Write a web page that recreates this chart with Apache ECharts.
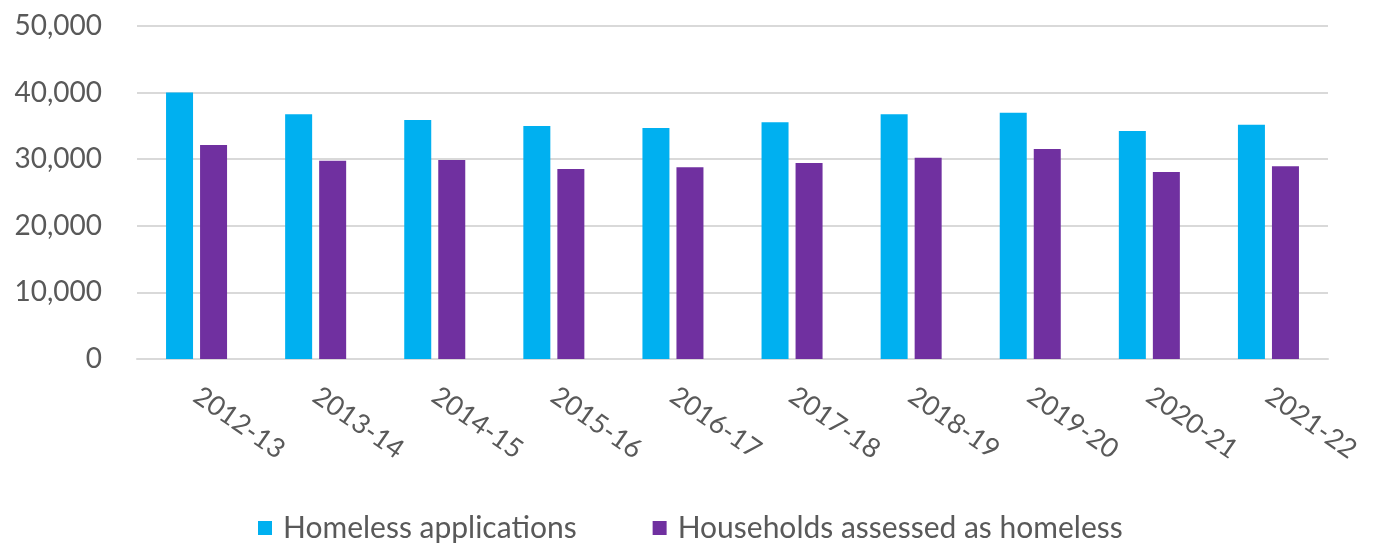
<!DOCTYPE html>
<html><head><meta charset="utf-8">
<script src="https://cdn.jsdelivr.net/npm/echarts@6/dist/echarts.min.js"></script>
<style>html,body{margin:0;padding:0;background:#fff}#c{width:1375px;height:544px}</style>
</head><body><div id="c"></div>
<script>
const categories = ['2012-13','2013-14','2014-15','2015-16','2016-17','2017-18','2018-19','2019-20','2020-21','2021-22'];
const applications = [40000, 36740, 35890, 34990, 34680, 35540, 36740, 36980, 34230, 35180];
const assessed = [32130, 29770, 29880, 28530, 28780, 29430, 30230, 31530, 28080, 28930];
const seriesNames = ['Homeless applications', 'Households assessed as homeless'];

const chart = echarts.init(document.getElementById('c'));
const font = 'Lato, "Open Sans", sans-serif';
chart.setOption({
  animation: false,
  grid: {left: 137, right: 47, top: 26, bottom: 185, containLabel: false},
  legend: {
    bottom: -4, left: 253, itemWidth: 14, itemHeight: 14, itemGap: 76,
    icon: 'rect',
    textStyle: {fontFamily: font, fontSize: 30, color: '#595959', padding: [0,0,0,6]},
    data: seriesNames
  },
  xAxis: {
    type: 'category', data: categories,
    axisLine: {lineStyle: {color: '#d9d9d9', width: 2}},
    axisTick: {show: false},
    axisLabel: {rotate: -35, fontFamily: font, fontSize: 27, color: '#595959', margin: 34, interval: 0}
  },
  yAxis: {
    type: 'value', min: 0, max: 50000, interval: 10000,
    axisLine: {show: false}, axisTick: {show: false},
    splitLine: {lineStyle: {color: '#d9d9d9', width: 2}},
    axisLabel: {fontFamily: font, fontSize: 28, color: '#595959', margin: 35,
      formatter: v => v.toLocaleString('en-US')}
  },
  series: [
    {name: seriesNames[0], type: 'bar', data: applications, barWidth: 27, barGap: '26%', itemStyle: {color: '#00B0F0'}},
    {name: seriesNames[1], type: 'bar', data: assessed, barWidth: 27, barGap: '26%', itemStyle: {color: '#7030A0'}}
  ]
});
</script></body></html>
